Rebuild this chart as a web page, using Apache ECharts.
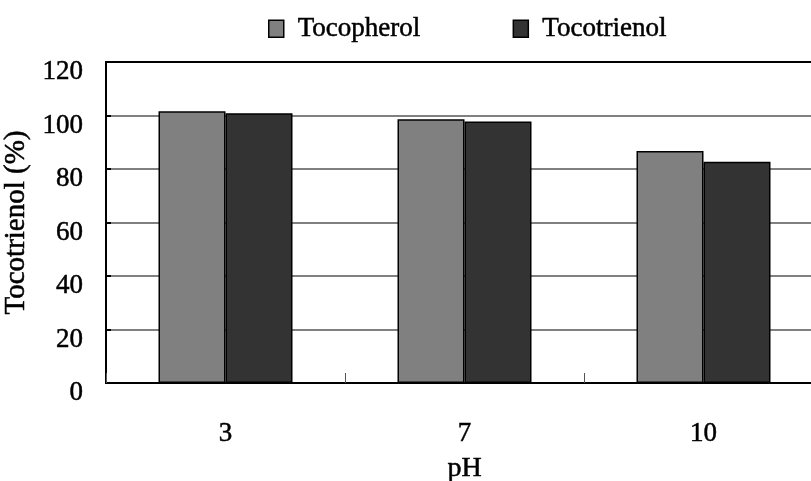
<!DOCTYPE html>
<html>
<head>
<meta charset="utf-8">
<script src="https://cdn.jsdelivr.net/npm/echarts@6/dist/echarts.min.js"></script>
<style>html,body{margin:0;padding:0;background:#fff}#c{width:811px;height:481px}</style>
</head>
<body>
<div id="c"></div>
<script>
const categories = ['3', '7', '10'];
const tocopherol = [101.6, 98.6, 86.7];
const tocotrienol = [100.8, 97.8, 82.7];
const seriesNames = ['Tocopherol', 'Tocotrienol'];
const yTicks = [0, 20, 40, 60, 80, 100, 120];

const FONT = "'Liberation Serif', 'Times New Roman', serif";
const heavy = {textBorderColor: '#000', textBorderWidth: 0.5};
const chart = echarts.init(document.getElementById('c'), null, {renderer: 'canvas'});
chart.setOption({
  animation: false,
  backgroundColor: '#fff',
  textStyle: {fontFamily: FONT, color: '#000'},
  legend: {
    data: seriesNames,
    icon: 'rect',
    left: 263, top: 10,
    itemWidth: 15, itemHeight: 17, itemGap: 92,
    textStyle: Object.assign({fontFamily: FONT, fontSize: 27, color: '#000', padding: [0, 0, 0, 9]}, heavy),
    itemStyle: {borderColor: '#000', borderWidth: 1.5}
  },
  grid: {
    left: 106, top: 62, width: 717, height: 321,
    outerBoundsMode: 'none', containLabel: false,
    show: true, borderColor: '#000', borderWidth: 2, backgroundColor: 'transparent'
  },
  xAxis: [{
    type: 'category',
    data: categories,
    name: 'pH', nameLocation: 'middle', nameGap: 72,
    nameTextStyle: Object.assign({fontFamily: FONT, fontSize: 28, color: '#000'}, heavy),
    axisLine: {lineStyle: {color: '#000', width: 2}},
    axisTick: {show: true, inside: true, length: 10, lineStyle: {color: '#555', width: 1}},
    axisLabel: Object.assign({fontFamily: FONT, fontSize: 27, color: '#000', margin: 37}, heavy)
  }, {
    type: 'category',
    data: categories,
    position: 'top',
    z: 10,
    axisLine: {show: true, lineStyle: {color: '#000', width: 2}},
    axisTick: {show: false},
    axisLabel: {show: false},
    splitLine: {show: false}
  }],
  yAxis: {
    type: 'value',
    min: yTicks[0], max: yTicks[yTicks.length - 1], interval: 20,
    name: 'Tocotrienol (%)', nameLocation: 'middle', nameGap: 65,
    nameTextStyle: Object.assign({fontFamily: FONT, fontSize: 29, color: '#000'}, heavy),
    axisLine: {show: true, lineStyle: {color: '#000', width: 2}},
    axisTick: {show: true, inside: true, length: 5, lineStyle: {color: '#000', width: 2}},
    axisLabel: Object.assign({fontFamily: FONT, fontSize: 27, color: '#000', margin: 23, verticalAlign: 'top', lineHeight: 20}, heavy),
    splitLine: {show: true, lineStyle: {color: '#808080', width: 2}}
  },
  series: [
    {name: seriesNames[0], type: 'bar', data: tocopherol, barWidth: 67, barGap: '0%',
     itemStyle: {color: '#808080', borderColor: '#000', borderWidth: 1.5}},
    {name: seriesNames[1], type: 'bar', data: tocotrienol, barWidth: 67, barGap: '0%',
     itemStyle: {color: '#333333', borderColor: '#000', borderWidth: 1.5}}
  ]
});
</script>
</body>
</html>
